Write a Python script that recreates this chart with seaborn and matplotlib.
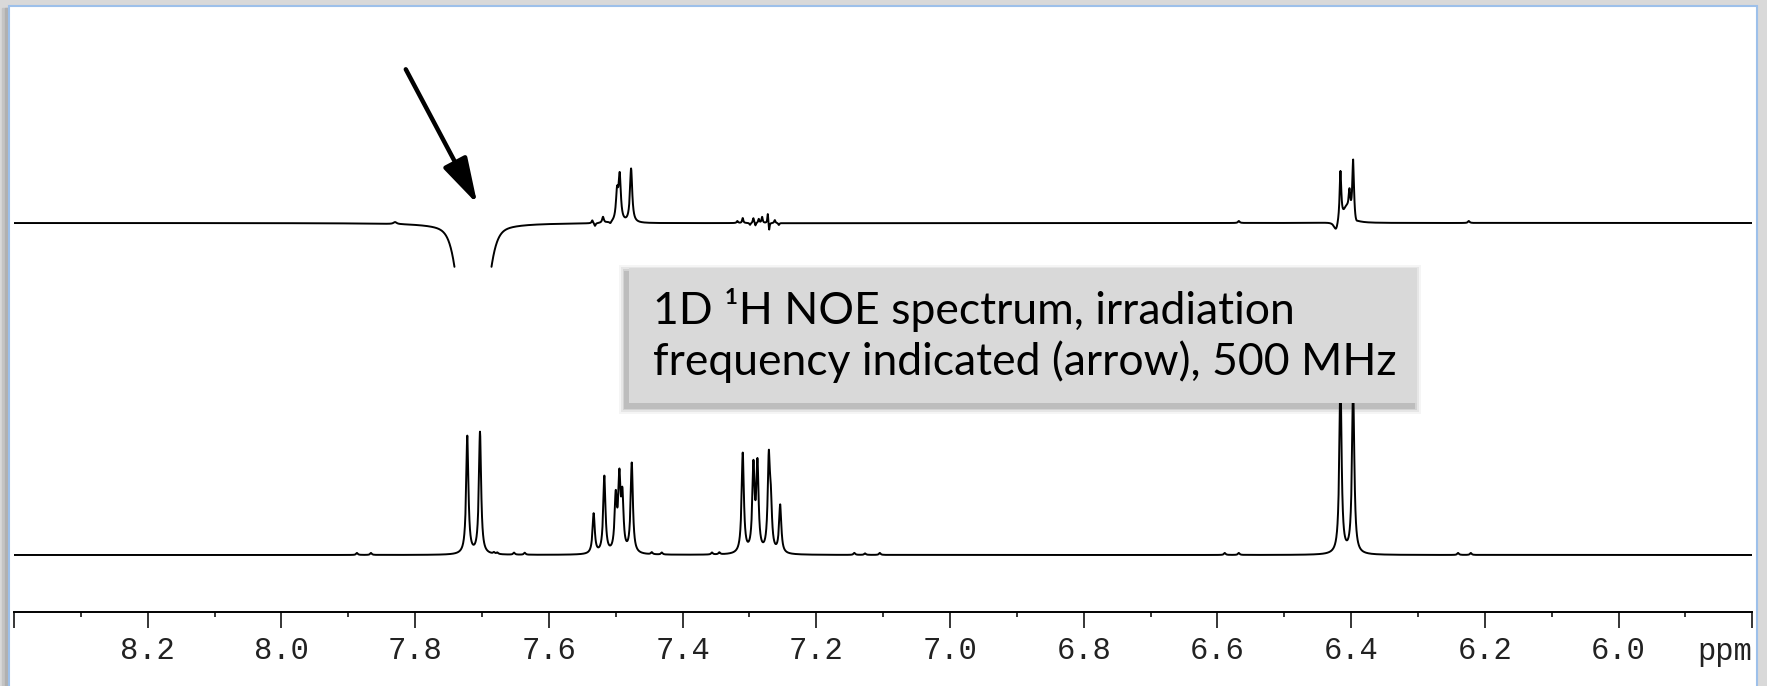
import numpy as np
import pandas as pd
import matplotlib
matplotlib.use('Agg')
import matplotlib.pyplot as plt
import seaborn as sns
from matplotlib.patches import Rectangle
from matplotlib.ticker import MultipleLocator

sns.set_style('white')
plt.rcParams['font.family'] = ['Liberation Mono', 'DejaVu Sans']

# reference 1H spectrum: peak list (ppm, height, half width)
ref_shift = [7.722, 7.703, 7.533, 7.517, 7.500, 7.4945, 7.490, 7.476,
             7.310, 7.294, 7.288, 7.271, 7.268, 7.254, 6.416, 6.397,
             7.887, 7.866, 7.682, 7.677, 7.652, 7.636, 7.446, 7.431,
             7.356, 7.345, 7.143, 7.127, 7.105, 6.589, 6.568, 6.240, 6.221]
ref_height = [118, 122, 40, 77, 53, 70, 52, 90,
              100, 84, 86, 90, 40, 48, 175, 170,
              2, 2, 1.5, 1.5, 2, 2, 2, 2,
              2, 2, 2, 1.5, 2, 2, 2, 2, 2]
ref_width = [0.002] * 16 + [0.0015] * 17

# NOE difference spectrum: peak list (negative = dispersive / inverted parts)
noe_shift = [7.830, 7.535, 7.531, 7.519, 7.508, 7.498, 7.494, 7.477,
             7.318, 7.310, 7.299, 7.294, 7.291, 7.286, 7.281, 7.2725, 7.2705, 7.262, 7.256,
             6.4225, 6.416, 6.407, 6.4025, 6.397, 6.393, 6.568, 6.224]
noe_height = [2, 3, -3, 6, -2, 28, 45, 54,
              2, 5, -2, 5, -3, 4, 6, 10, -8, 3, -2,
              -10, 50, 14, 22, 60, -5, 2, 2]
noe_width = [0.003, 0.0012, 0.0012, 0.0015, 0.0015, 0.002, 0.002, 0.002,
             0.0012, 0.001, 0.001, 0.001, 0.0008, 0.001, 0.001, 0.0008, 0.0008, 0.001, 0.001,
             0.004, 0.0015, 0.006, 0.0015, 0.0015, 0.003, 0.0015, 0.0015]

# saturated (irradiated) line at 7.71 ppm
irr_shift = 7.7135
irr_core_height, irr_core_sigma = -139, 0.0150
irr_tail_height, irr_tail_width = -722, 0.0045
clip_level = -44

def lorentz(x, x0, h, w):
    return h * w ** 2 / ((x - x0) ** 2 + w ** 2)

ppm = np.arange(5.80, 8.4001, 0.0002)
ref = np.zeros_like(ppm)
for s, h, w in zip(ref_shift, ref_height, ref_width):
    ref += lorentz(ppm, s, h, w)
noe = np.zeros_like(ppm)
for s, h, w in zip(noe_shift, noe_height, noe_width):
    noe += lorentz(ppm, s, h, w)
noe += irr_core_height * np.exp(-(ppm - irr_shift) ** 2 / (2 * irr_core_sigma ** 2))
noe += lorentz(ppm, irr_shift, irr_tail_height, irr_tail_width)

# the inverted line runs off the trace window -> break the line there
keep = noe >= clip_level
seg = np.cumsum(~keep)
noe_df = pd.DataFrame({'ppm': ppm[keep], 'intensity': noe[keep] + 332,
                       'segment': ['noe%d' % i for i in seg[keep]]})
ref_df = pd.DataFrame({'ppm': ppm, 'intensity': ref, 'segment': 'ref'})
df = pd.concat([ref_df, noe_df], ignore_index=True)

W, H = 1767, 686
fig = plt.figure(figsize=(W / 100, H / 100), dpi=100)
fig.patch.set_facecolor('#d9d9d9')

def frac(x0, y0, x1, y1):
    return (x0 / W, 1 - y1 / H), (x1 - x0) / W, (y1 - y0) / H

# slide panel
for (x0, x1, c) in [(2, 9, '#c4c4c4'), (5, 9, '#b0b0b0')]:
    xy, w, h = frac(x0, 8, x1, 690)
    fig.add_artist(Rectangle(xy, w, h, transform=fig.transFigure, color=c, zorder=-3))
xy, w, h = frac(9, 6, 1757, 700)
fig.add_artist(Rectangle(xy, w, h, transform=fig.transFigure, facecolor='white',
                         edgecolor='#9dc0ea', lw=1.5, zorder=-2))

ax = fig.add_axes([14 / W, (H - 611.7) / H, 1738.3 / W, (611.7 - 7) / H])
ax.set_facecolor('none')

sns.lineplot(data=df, x='ppm', y='intensity', units='segment', estimator=None,
             color='black', linewidth=1.4, ax=ax, legend=False)

ax.set_xlim(8.40, 5.80)
ax.set_ylim(-56.7, 548)
ax.set_xlabel('')
ax.set_ylabel('')
ax.set_yticks([])
major = [8.4, 8.2, 8.0, 7.8, 7.6, 7.4, 7.2, 7.0, 6.8, 6.6, 6.4, 6.2, 6.0, 5.8]
labels = ['' if t in (8.4, 5.8) else '%.1f' % t for t in major]
ax.set_xticks(major, labels)
ax.xaxis.set_minor_locator(MultipleLocator(0.1))
ax.tick_params(axis='x', which='both', bottom=True, direction='out')
ax.tick_params(axis='x', which='major', length=11.2, width=1.1, pad=6,
               labelsize=22, labelcolor='#222222', color='black')
ax.tick_params(axis='x', which='minor', length=3.5, width=1.1, color='black')
sns.despine(ax=ax, left=True)
ax.spines['bottom'].set_linewidth(1.4)
ax.spines['bottom'].set_color('black')
ax.text(1.0, -0.066, 'ppm', transform=ax.transAxes, ha='right', va='center',
        fontsize=22, color='#222222')

# arrow marking irradiation frequency
ax.annotate('', xy=(7.707, 351), xytext=(7.814, 485.7),
            arrowprops=dict(arrowstyle='-|>,head_length=2.8,head_width=0.8',
                            mutation_scale=10, lw=3.2, color='black',
                            shrinkA=0, shrinkB=0))

# caption box with soft shadow
for grow, a in [(7, 0.04), (5, 0.06), (3, 0.08), (1.5, 0.10)]:
    xy, w, h = frac(628.8 - 3 - grow, 268.2 + 4 - grow, 1416.5 - 3 + grow, 403.4 + 4 + grow)
    fig.add_artist(Rectangle(xy, w, h, transform=fig.transFigure, color='black',
                             alpha=a, lw=0, zorder=4))
xy, w, h = frac(628.8, 268.2, 1416.5, 403.4)
fig.add_artist(Rectangle(xy, w, h, transform=fig.transFigure, color='#d9d9d9', lw=0, zorder=5))
fig.text(653 / W, 1 - 324 / H, '1D \u00b9H NOE spectrum, irradiation', fontsize=32,
         family=['Lato', 'DejaVu Sans'], color='black', ha='left', va='baseline', zorder=6)
fig.text(653 / W, 1 - 375 / H, 'frequency indicated (arrow), 500 MHz', fontsize=32,
         family=['Lato', 'DejaVu Sans'], color='black', ha='left', va='baseline', zorder=6)

fig.savefig('out.png', dpi=100, facecolor=fig.get_facecolor())
